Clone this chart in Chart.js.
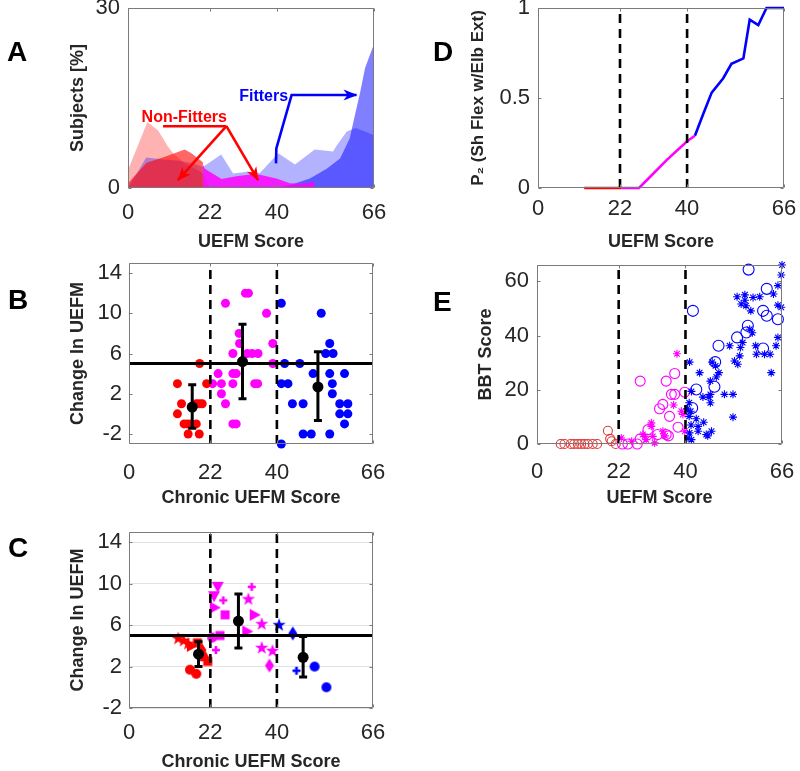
<!DOCTYPE html>
<html>
<head>
<meta charset="utf-8">
<title>UEFM panels</title>
<script src="https://cdn.jsdelivr.net/npm/chart.js@4.4.1/dist/chart.umd.min.js"></script>
<style>
  html, body { margin: 0; padding: 0; background: #fff; overflow: hidden; }
  #fig { position: relative; width: 800px; height: 771px; }
  #fig canvas { position: absolute; }
  .tag { position: absolute; font: bold 28px/28px "Liberation Sans", Arial, sans-serif; color: #000; }
</style>
</head>
<body>
<div id="fig">
  <canvas id="cA" width="395" height="255" style="left:0px;top:0px"></canvas>
  <canvas id="cB" width="395" height="255" style="left:0px;top:255px"></canvas>
  <canvas id="cC" width="395" height="261" style="left:0px;top:510px"></canvas>
  <canvas id="cD" width="400" height="255" style="left:400px;top:0px"></canvas>
  <canvas id="cE" width="400" height="255" style="left:400px;top:255px"></canvas>
  <div class="tag" style="left:7px;top:38px">A</div>
  <div class="tag" style="left:8px;top:286px">B</div>
  <div class="tag" style="left:8px;top:534px">C</div>
  <div class="tag" style="left:433px;top:38px">D</div>
  <div class="tag" style="left:433px;top:288px">E</div>
</div>
<script>
const FONT = '"Liberation Sans", Arial, Helvetica, sans-serif';
const INK = '#262626';
const RED = '#ff0000', MAG = '#ff00ff', BLUE = '#0000ff';

// shared axis values
const uefmTicks = [0, 22, 40, 66];
const cutoffs = [22, 40];
const mcid = 5;
const changeTicks = [-2, 2, 6, 10, 14];

// A: % of subjects per UEFM score
const aLightRedX = [0, 5.2, 8.1, 10.7, 12.1, 15, 18, 20, 22];
const aLightRedY = [3, 11, 9.6, 6.9, 5.8, 4.2, 3.2, 2.5, 0];
const aLightBlueX = [0, 4.9, 10.3, 13, 17, 20.1, 25, 28.2, 32, 35.4, 40.3, 44.8, 50.1, 55, 56, 58.7, 61, 63.6, 66];
const aLightBlueY = [0, 5.1, 4.7, 4.6, 4.2, 3.5, 5.6, 2.4, 2.7, 2.5, 5.8, 3.9, 6.4, 6.1, 7.1, 9.4, 10, 9.4, 8.8];
const aDarkRedX = [0, 5, 9.9, 15.2, 17, 20.1, 20.1];
const aDarkRedY = [0.8, 4.2, 5.2, 6.4, 5.8, 4.3, 0];
const aMagentaX = [20.1, 20.1, 20.6, 25.1, 28.7, 33.1, 35.4, 39.8, 43.4, 46.1, 50.1, 50.1];
const aMagentaY = [0, 3.9, 3.2, 1.5, 1.9, 2.3, 2.2, 1.6, 0.8, 0.7, 1.0, 0];
const aBlueX = [40, 44, 48.8, 53.3, 56.9, 59.5, 60.9, 62.3, 63.6, 66];
const aBlueY = [0, 0.6, 1.6, 3.2, 4.9, 8.3, 12.2, 16, 20, 24];

// B: change in UEFM vs chronic UEFM
const bRedX = [13.1, 14.2, 13.1, 14.9, 15.8, 16.7, 18.2, 16, 19, 19.1, 18.2, 19, 19.8, 21];
const bRedY = [3, 1, 0, -1, -1, -1, -1, -2, -2, 5, 1, 1, 1, 3];
const bMagX = [26.1, 31.5, 32.3, 37.2, 29.8, 29.9, 28.1, 32, 33.3, 34.9, 38.9, 38.9, 24.1, 28.1, 29, 22.6, 25, 28.1, 34, 34.8, 25, 26.1, 28.1, 29];
const bMagY = [11, 12, 12, 10, 8, 7, 6, 6, 6, 6, 7, 5, 4, 4, 4, 3, 3, 3, 3, 3, 2, 1, -1, -1];
const bBlueX = [41.2, 41.2, 52, 54.3, 53.2, 55.2, 42.1, 46.2, 41.2, 43, 49.8, 54.3, 58.3, 55, 55, 44.2, 47.1, 57, 59.2, 57, 59.2, 58.3, 47.1, 49.3, 54.3];
const bBlueY = [11, -3, 10, 7, 6, 6, 5, 5, 3, 3, 4, 4, 4, 3, 2, 1, 1, 1, 1, 0, 0, -1, -2, -2, -2];
const bMeanX = [17.1, 30.7, 51.1];
const bMeanY = [0.67, 5.2, 2.67];
const bLow = [-1.43, 1.5, -0.67];
const bHigh = [2.9, 8.9, 6.17];

// C: same, one marker per study
const cRedX = [13.3, 14.8, 16, 17, 18.5, 19.7, 20.6, 21.3, 16.5, 18.2];
const cRedY = [4.7, 4.5, 4.2, 4.0, 4.3, 3.6, 3.0, 2.5, 1.7, 1.3];
const cRedMarker = ['star', 'star', 'star', 'triRight', 'square', 'diamond', 'triUp', 'square', 'circle', 'circle'];
const cMagX = [24, 23, 25.5, 26, 23.2, 33.2, 32.3, 34, 35.9, 32, 22.5, 24.6, 23.5, 35.9, 38.8, 38];
const cMagY = [9.7, 8.8, 8.4, 7, 7.7, 9.7, 8.5, 7, 6.1, 5.4, 4.8, 5, 3.6, 3.8, 3.5, 2.1];
const cMagMarker = ['triDown', 'triDown', 'plus', 'square', 'triRight', 'plus', 'star', 'triRight', 'star', 'triRight', 'circle', 'square', 'plus', 'star', 'star', 'diamond'];
const cBlueX = [40.6, 44.3, 45.3, 50.2, 53.4];
const cBlueY = [6, 5.2, 1.6, 2.0, 0];
const cBlueMarker = ['star', 'diamond', 'plus', 'circle', 'circle'];
const cMeanX = [18.8, 29.6, 47.1];
const cMeanY = [3.2, 6.4, 2.9];
const cLow = [2.0, 3.8, 1.0];
const cHigh = [4.4, 9.0, 4.9];

// D: P2 curve
const dRedX = [12.4, 22.4];
const dRedY = [0, 0];
const dMagX = [22.4, 27.1, 29.5, 34.5, 40, 42.1];
const dMagY = [0, 0, 0.05, 0.155, 0.26, 0.29];
const dBlueX = [42.1, 44.3, 46.6, 49.7, 51.9, 55.1, 56.8, 59.1, 61.3, 66];
const dBlueY = [0.29, 0.41, 0.53, 0.61, 0.69, 0.72, 0.935, 0.905, 1, 1];

// E: BBT vs UEFM
const eRedCircX = [6.4, 7.4, 9.1, 10, 11, 11.9, 12.8, 13.7, 15, 16.2, 19.1, 19.7, 20.1, 21.2];
const eRedCircY = [0, 0, 0, 0, 0, 0, 0, 0, 0, 0, 4.9, 1.9, 1, 0];
const eMagCircX = [23, 24.5, 27, 27.8, 27.8, 29.9, 33, 33.9, 34.8, 35.7, 36.2, 37.1, 37.1, 38, 39.8, 34.8, 35.4, 32.5];
const eMagCircY = [0, 0, 0, 1.9, 23.2, 5.3, 13, 14.6, 23.2, 10.2, 18.3, 18.3, 26, 6.2, 19.1, 3.5, 3, 3.5];
const eMagStarX = [22.7, 25.5, 28.5, 29, 29.4, 30.8, 30.8, 31.2, 31.7, 33.9, 34.5, 36.8, 37.7, 38.9, 39.3, 39.8];
const eMagStarY = [2.2, 1, 3.5, 2.8, 1.6, 7.8, 6.5, 2.8, 0.4, 4.7, 3, 14.4, 33.3, 12.1, 10.9, 4.7];
const eBlueCircX = [42, 41.8, 42.9, 47.8, 48, 48.9, 53.9, 56.4, 56.8, 57, 60.9, 60.9, 61.9, 61.9, 64.9];
const eBlueCircY = [49.1, 13.3, 20.1, 21.1, 30.2, 36.2, 39.3, 41.1, 43.6, 64.3, 49.1, 35.2, 47.3, 57.2, 46];
const eBlueStarX = [40.5, 40.7, 41, 41, 41.1, 41.1, 41.4, 41.5, 41.6, 41.6, 42.9, 43.4, 43.4, 43.8, 44.7, 44.9, 45.6, 46, 46.3, 46.7,
  46.7, 46.7, 47, 47.2, 48.1, 48.3, 49, 50.5, 51.9, 52.8, 52.8, 53.2, 53.9, 54.1, 54.6, 54.8, 55, 55.4, 56, 56,
  56.3, 57.3, 57.6, 58, 58.2, 58.9, 59.1, 60, 61.3, 62.8, 63.1, 63.7, 64.4, 64.9, 64.9, 64.9, 65.8, 65.8, 66];
const eBlueStarY = [13, 2.2, 15.2, 10.2, 30.2, 4.1, 12.1, 7, 19.4, 1.6, 9.3, 6.5, 4.7, 26.3, 17.3, 8, 3.5, 3, 17.3, 23.2,
  18.3, 15.2, 4.7, 30.2, 28.8, 24.7, 26.3, 18.3, 36.2, 18.3, 9.9, 30.6, 54.3, 29.4, 32.5, 35.6, 51.6, 37.4, 55, 53,
  51, 42.3, 49.1, 41, 54, 36.2, 33.1, 54.3, 33.1, 33.1, 26.3, 55.3, 36.2, 58.4, 51.2, 39.3, 62.3, 50.4, 66];

const xy = (xs, ys) => xs.map((x, i) => ({ x, y: ys[i] }));

function area(xs, ys, color) {
  return { data: xy(xs, ys), backgroundColor: color, borderWidth: 0, pointRadius: 0, fill: 'origin', tension: 0 };
}
function dots(xs, ys, color, r) {
  return { data: xy(xs, ys), backgroundColor: color, borderColor: color, borderWidth: 0, pointRadius: r, clip: false };
}
function rings(xs, ys, color, r, style) {
  return { data: xy(xs, ys), backgroundColor: 'rgba(0,0,0,0)', borderColor: color, borderWidth: 1.1, pointRadius: r, pointStyle: style, clip: false };
}
function trace(xs, ys, color) {
  return { data: xy(xs, ys), showLine: true, borderColor: color, borderWidth: 2.6, pointRadius: 0, fill: false, tension: 0, clip: false };
}
function vline(x, lo, hi) {
  return { data: [{ x, y: lo }, { x, y: hi }], showLine: true, borderColor: '#000', borderWidth: 2.6, borderDash: [9, 6], pointRadius: 0, fill: false };
}
function hline(y) {
  return { data: [{ x: 0, y }, { x: 66, y }], showLine: true, borderColor: '#000', borderWidth: 3, pointRadius: 0, fill: false };
}

// filled marker shapes for panel C
function marker(shape, color) {
  const c = document.createElement('canvas');
  c.width = c.height = 16;
  const g = c.getContext('2d');
  const m = 8;
  g.fillStyle = color;
  g.beginPath();
  if (shape === 'star') {
    for (let i = 0; i < 10; i++) {
      const r = i % 2 ? 2.8 : 7;
      const a = -Math.PI / 2 + i * Math.PI / 5;
      g.lineTo(m + r * Math.cos(a), m + r * Math.sin(a));
    }
  } else if (shape === 'triDown') {
    g.moveTo(m - 6, m - 5); g.lineTo(m + 6, m - 5); g.lineTo(m, m + 6);
  } else if (shape === 'triUp') {
    g.moveTo(m - 6, m + 5); g.lineTo(m + 6, m + 5); g.lineTo(m, m - 6);
  } else if (shape === 'triRight') {
    g.moveTo(m - 5, m - 6); g.lineTo(m - 5, m + 6); g.lineTo(m + 6, m);
  } else if (shape === 'square') {
    g.rect(m - 4.5, m - 4.5, 9, 9);
  } else if (shape === 'diamond') {
    g.moveTo(m, m - 7); g.lineTo(m + 4.5, m); g.lineTo(m, m + 7); g.lineTo(m - 4.5, m);
  } else if (shape === 'plus') {
    g.rect(m - 1.3, m - 4, 2.6, 8); g.rect(m - 4, m - 1.3, 8, 2.6);
  } else {
    g.arc(m, m, 5, 0, Math.PI * 2);
  }
  g.closePath();
  g.fill();
  return c;
}
function shapes(xs, ys, marks, color) {
  return { data: xy(xs, ys), pointStyle: marks.map(s => marker(s, color)), pointRadius: 6, clip: false };
}

function xAxis({ size, pad, titlePad, title = 'UEFM Score' }) {
  return {
    type: 'linear', min: 0, max: 66,
    afterBuildTicks: s => { s.ticks = uefmTicks.map(v => ({ value: v })); },
    afterFit: s => { s.height = size; s.paddingLeft = 0; s.paddingRight = 0; },
    grid: { display: false, drawTicks: false },
    border: { display: false },
    ticks: { padding: pad, color: INK, font: { family: FONT, size: 22 }, autoSkip: false, maxRotation: 0, minRotation: 0, callback: v => String(v) },
    title: { display: true, text: title, color: INK, font: { family: FONT, size: 18, weight: 'bold', lineHeight: 1 }, padding: { top: 0, bottom: titlePad } }
  };
}
function yAxis({ min, max, ticks, size, pad, title, titlePad, titleSize = 18, grid = false }) {
  return {
    type: 'linear', min, max,
    afterBuildTicks: s => { s.ticks = ticks.map(v => ({ value: v })); },
    afterFit: s => { s.width = size; s.paddingTop = 0; s.paddingBottom = 0; },
    grid: grid ? { color: '#e2e2e2', lineWidth: 1, drawTicks: false } : { display: false, drawTicks: false },
    border: { display: false },
    ticks: { padding: pad, color: INK, font: { family: FONT, size: 22 }, autoSkip: false, callback: v => String(v) },
    title: { display: true, text: title, color: INK, font: { family: FONT, size: titleSize, weight: 'bold', lineHeight: 1 }, padding: { top: titlePad, bottom: 0 } }
  };
}
function options(x, y, top, right, extra = {}) {
  return {
    responsive: false, animation: false, events: [],
    layout: { padding: { left: 0, top, right, bottom: 0 } },
    scales: { x, y },
    plugins: Object.assign({ legend: { display: false }, tooltip: { enabled: false } }, extra)
  };
}

// axes box with inward ticks, drawn on top like MATLAB's axes layer
const boxPlugin = {
  id: 'axbox',
  afterDraw(chart) {
    const { ctx, chartArea: a, scales: { x, y } } = chart;
    const L = Math.round(a.left) + 0.5, R = Math.round(a.right) - 0.5;
    const T = Math.round(a.top) + 0.5, B = Math.round(a.bottom) - 0.5;
    ctx.save();
    ctx.strokeStyle = '#7a7a7a';
    ctx.lineWidth = 1;
    ctx.beginPath();
    ctx.moveTo(L, T); ctx.lineTo(R, T); ctx.lineTo(R, B); ctx.lineTo(L, B); ctx.closePath();
    x.ticks.forEach(t => {
      const p = Math.round(x.getPixelForValue(t.value)) + 0.5;
      ctx.moveTo(p, B); ctx.lineTo(p, B - 3);
      ctx.moveTo(p, T); ctx.lineTo(p, T + 3);
    });
    y.ticks.forEach(t => {
      const p = Math.round(y.getPixelForValue(t.value)) + 0.5;
      ctx.moveTo(L, p); ctx.lineTo(L + 3, p);
      ctx.moveTo(R, p); ctx.lineTo(R - 3, p);
    });
    ctx.stroke();
    ctx.restore();
  }
};

const errPlugin = {
  id: 'errbars',
  afterDatasetsDraw(chart, args, o) {
    if (!o || !o.x) return;
    const { ctx, scales: { x, y } } = chart;
    ctx.save();
    ctx.strokeStyle = '#000';
    ctx.lineWidth = 3;
    ctx.beginPath();
    o.x.forEach((mx, i) => {
      const px = x.getPixelForValue(mx);
      const lo = y.getPixelForValue(o.lo[i]), hi = y.getPixelForValue(o.hi[i]);
      ctx.moveTo(px, lo); ctx.lineTo(px, hi);
      ctx.moveTo(px - 4, lo); ctx.lineTo(px + 4, lo);
      ctx.moveTo(px - 4, hi); ctx.lineTo(px + 4, hi);
    });
    ctx.stroke();
    ctx.restore();
  }
};

const notePlugin = {
  id: 'notes',
  afterDatasetsDraw(chart, args, o) {
    if (!o || !o.items) return;
    const { ctx, scales: { x, y } } = chart;
    const P = p => [x.getPixelForValue(p[0]), y.getPixelForValue(p[1])];
    ctx.save();
    ctx.lineWidth = 2.6;
    o.items.forEach(it => {
      ctx.strokeStyle = it.color;
      ctx.fillStyle = it.color;
      it.paths.forEach((path, k) => {
        const pts = path.map(P);
        ctx.beginPath();
        pts.forEach(([px, py], i) => i ? ctx.lineTo(px, py) : ctx.moveTo(px, py));
        ctx.stroke();
        if (it.heads.includes(k)) {
          const [x0, y0] = pts[pts.length - 2], [x1, y1] = pts[pts.length - 1];
          ctx.save();
          ctx.translate(x1, y1);
          ctx.rotate(Math.atan2(y1 - y0, x1 - x0));
          ctx.beginPath();
          ctx.moveTo(1, 0); ctx.lineTo(-13, -5.5); ctx.lineTo(-9, 0); ctx.lineTo(-13, 5.5);
          ctx.closePath();
          ctx.fill();
          ctx.restore();
        }
      });
      const [tx, ty] = P(it.at);
      ctx.font = `bold 16px ${FONT}`;
      ctx.textAlign = 'center';
      ctx.textBaseline = 'middle';
      ctx.fillText(it.text, tx, ty);
    });
    ctx.restore();
  }
};

// A
new Chart(document.getElementById('cA'), {
  type: 'line',
  data: { datasets: [
    area(aMagentaX, aMagentaY, 'rgba(255,0,255,0.85)'),
    area(aDarkRedX, aDarkRedY, 'rgba(255,0,0,0.6)'),
    area(aBlueX, aBlueY, 'rgba(0,0,255,0.5)'),
    area(aLightBlueX, aLightBlueY, 'rgba(0,0,255,0.3)'),
    area(aLightRedX, aLightRedY, 'rgba(255,0,0,0.3)')
  ] },
  options: options(
    xAxis({ size: 67, pad: 12, titlePad: 4 }),
    yAxis({ min: 0, max: 30, ticks: [0, 30], size: 128, pad: 8, title: 'Subjects [%]', titlePad: 69 }),
    8, 21,
    { notes: { items: [
      { color: RED, text: 'Non-Fitters', at: [15.1, 11.8], heads: [1, 2],
        paths: [[[9.4, 10.3], [26.4, 10.3]], [[26.4, 10.3], [13.4, 1.3]], [[26.4, 10.3], [34.9, 1.3]]] },
      { color: BLUE, text: 'Fitters', at: [36.4, 15.3], heads: [0],
        paths: [[[39.7, 4.1], [39.8, 6.6], [43.9, 15.5], [61.3, 15.5]]] }
    ] } }
  ),
  plugins: [notePlugin, boxPlugin]
});

// B
new Chart(document.getElementById('cB'), {
  type: 'scatter',
  data: { datasets: [
    hline(mcid),
    ...cutoffs.map(c => vline(c, -3, 15)),
    dots(bMeanX, bMeanY, '#000', 5.5),
    dots(bRedX, bRedY, RED, 4.5),
    dots(bMagX, bMagY, MAG, 4.5),
    dots(bBlueX, bBlueY, BLUE, 4.5)
  ] },
  options: options(
    xAxis({ size: 66, pad: 16, titlePad: 3, title: 'Chronic UEFM Score' }),
    yAxis({ min: -3, max: 15, ticks: changeTicks, size: 129, pad: 7, title: 'Change In UEFM', titlePad: 69 }),
    8, 22,
    { errbars: { x: bMeanX, lo: bLow, hi: bHigh } }
  ),
  plugins: [errPlugin, boxPlugin]
});

// C
new Chart(document.getElementById('cC'), {
  type: 'scatter',
  data: { datasets: [
    hline(mcid),
    ...cutoffs.map(c => vline(c, -2, 15)),
    dots(cMeanX, cMeanY, '#000', 5.5),
    shapes(cRedX, cRedY, cRedMarker, RED),
    shapes(cMagX, cMagY, cMagMarker, MAG),
    shapes(cBlueX, cBlueY, cBlueMarker, BLUE)
  ] },
  options: options(
    xAxis({ size: 63, pad: 12, titlePad: 0, title: 'Chronic UEFM Score' }),
    yAxis({ min: -2, max: 15, ticks: changeTicks, size: 129, pad: 7, title: 'Change In UEFM', titlePad: 69, grid: true }),
    22, 22,
    { errbars: { x: cMeanX, lo: cLow, hi: cHigh } }
  ),
  plugins: [errPlugin, boxPlugin]
});

// D
new Chart(document.getElementById('cD'), {
  type: 'line',
  data: { datasets: [
    ...cutoffs.map(c => vline(c, 0, 1)),
    trace(dRedX, dRedY, RED),
    trace(dMagX, dMagY, MAG),
    trace(dBlueX, dBlueY, BLUE)
  ] },
  options: options(
    xAxis({ size: 67, pad: 8, titlePad: 4 }),
    yAxis({ min: 0, max: 1, ticks: [0, 0.5, 1], size: 138, pad: 8, title: 'P\u2082 (Sh Flex w/Elb Ext)', titlePad: 69.5, titleSize: 17 }),
    8, 16
  ),
  plugins: [boxPlugin]
});

// E
new Chart(document.getElementById('cE'), {
  type: 'scatter',
  data: { datasets: [
    ...cutoffs.map(c => vline(c, 0, 66)),
    rings(eBlueStarX, eBlueStarY, BLUE, 4, 'star'),
    rings(eBlueCircX, eBlueCircY, BLUE, 5.5, 'circle'),
    rings(eMagStarX, eMagStarY, MAG, 4, 'star'),
    rings(eMagCircX, eMagCircY, MAG, 5, 'circle'),
    rings(eRedCircX, eRedCircY, '#e03a3a', 4.5, 'circle')
  ] },
  options: options(
    xAxis({ size: 66, pad: 15, titlePad: 3 }),
    yAxis({ min: 0, max: 66, ticks: [0, 20, 40, 60], size: 137, pad: 8, title: 'BBT Score', titlePad: 77 }),
    10, 18
  ),
  plugins: [boxPlugin]
});
</script>
</body>
</html>
